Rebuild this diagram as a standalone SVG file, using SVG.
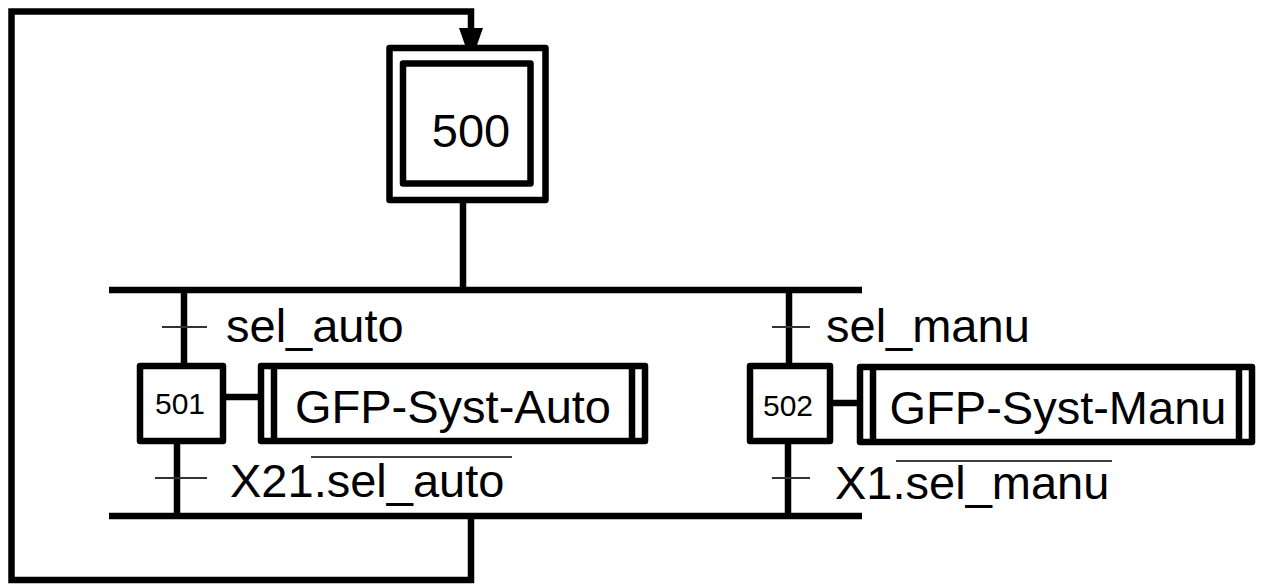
<svg xmlns="http://www.w3.org/2000/svg" width="1268" height="585" viewBox="0 0 1268 585">
<style>
.thick{stroke:#000;stroke-width:6.5;fill:none}
.tick{stroke:#333;stroke-width:2;fill:none}
.box{stroke:#000;stroke-width:6.5;fill:#fff;stroke-linejoin:round}
.lbl{font-family:"Liberation Sans",Arial,sans-serif;font-size:47px;fill:#000}
.num{font-family:"Liberation Sans",Arial,sans-serif;font-size:30px;fill:#000}
.ov{stroke:#000;stroke-width:1.5}
</style>
<rect width="1268" height="585" fill="#fff"/>
<g id="connectors">
<path class="thick" d="M471,516 V580 H11.5 V11.5 H471 V30"/>
<path d="M459,28 L483,28 L471,62 Z" fill="#000"/>
<line class="thick" x1="463" y1="200" x2="463" y2="290"/>
<line class="thick" x1="109" y1="290" x2="862" y2="290"/>
<line class="thick" x1="184" y1="290" x2="184" y2="366"/>
<line class="thick" x1="789" y1="290" x2="789" y2="366"/>
<line class="thick" x1="177" y1="441" x2="177" y2="516"/>
<line class="thick" x1="788" y1="442" x2="788" y2="516"/>
<line class="thick" x1="109" y1="516" x2="862" y2="516"/>
<line class="thick" x1="223" y1="397" x2="261" y2="397"/>
<line class="thick" x1="830" y1="403" x2="860" y2="403"/>
</g>
<g id="t1">
<line class="tick" x1="162" y1="327" x2="207" y2="327"/>
<text class="lbl" x="226" y="342">sel_auto</text>
</g>
<g id="t2">
<line class="tick" x1="772" y1="327" x2="810" y2="327"/>
<text class="lbl" x="826" y="342">sel_manu</text>
</g>
<g id="t3">
<line class="tick" x1="155" y1="478" x2="207" y2="478"/>
<text class="lbl" x="230" y="497">X21.sel_auto</text>
<line class="ov" x1="311" y1="457" x2="512" y2="457"/>
</g>
<g id="t4">
<line class="tick" x1="772" y1="478" x2="810" y2="478"/>
<text class="lbl" x="835" y="499">X1.sel_manu</text>
<line class="ov" x1="896" y1="461" x2="1112" y2="461"/>
</g>
<g id="s500">
<rect class="box" x="389.5" y="48" width="156" height="152"/>
<rect class="box" x="403" y="63.5" width="127.5" height="120"/>
<text class="lbl" x="471" y="147" text-anchor="middle">500</text>
</g>
<g id="s501">
<rect class="box" x="140" y="366" width="83" height="75"/>
<text class="num" x="180" y="414" text-anchor="middle">501</text>
</g>
<g id="a501">
<rect class="box" x="261" y="366" width="384" height="75"/>
<line class="thick" x1="274" y1="366" x2="274" y2="441"/>
<line class="thick" x1="632" y1="366" x2="632" y2="441"/>
<text class="lbl" x="453" y="423" text-anchor="middle">GFP-Syst-Auto</text>
</g>
<g id="s502">
<rect class="box" x="750" y="366" width="80" height="75"/>
<text class="num" x="788" y="416" text-anchor="middle">502</text>
</g>
<g id="a502">
<rect class="box" x="860" y="367" width="392" height="75"/>
<line class="thick" x1="873" y1="367" x2="873" y2="442"/>
<line class="thick" x1="1239" y1="367" x2="1239" y2="442"/>
<text class="lbl" x="1058" y="424" text-anchor="middle">GFP-Syst-Manu</text>
</g>
</svg>
